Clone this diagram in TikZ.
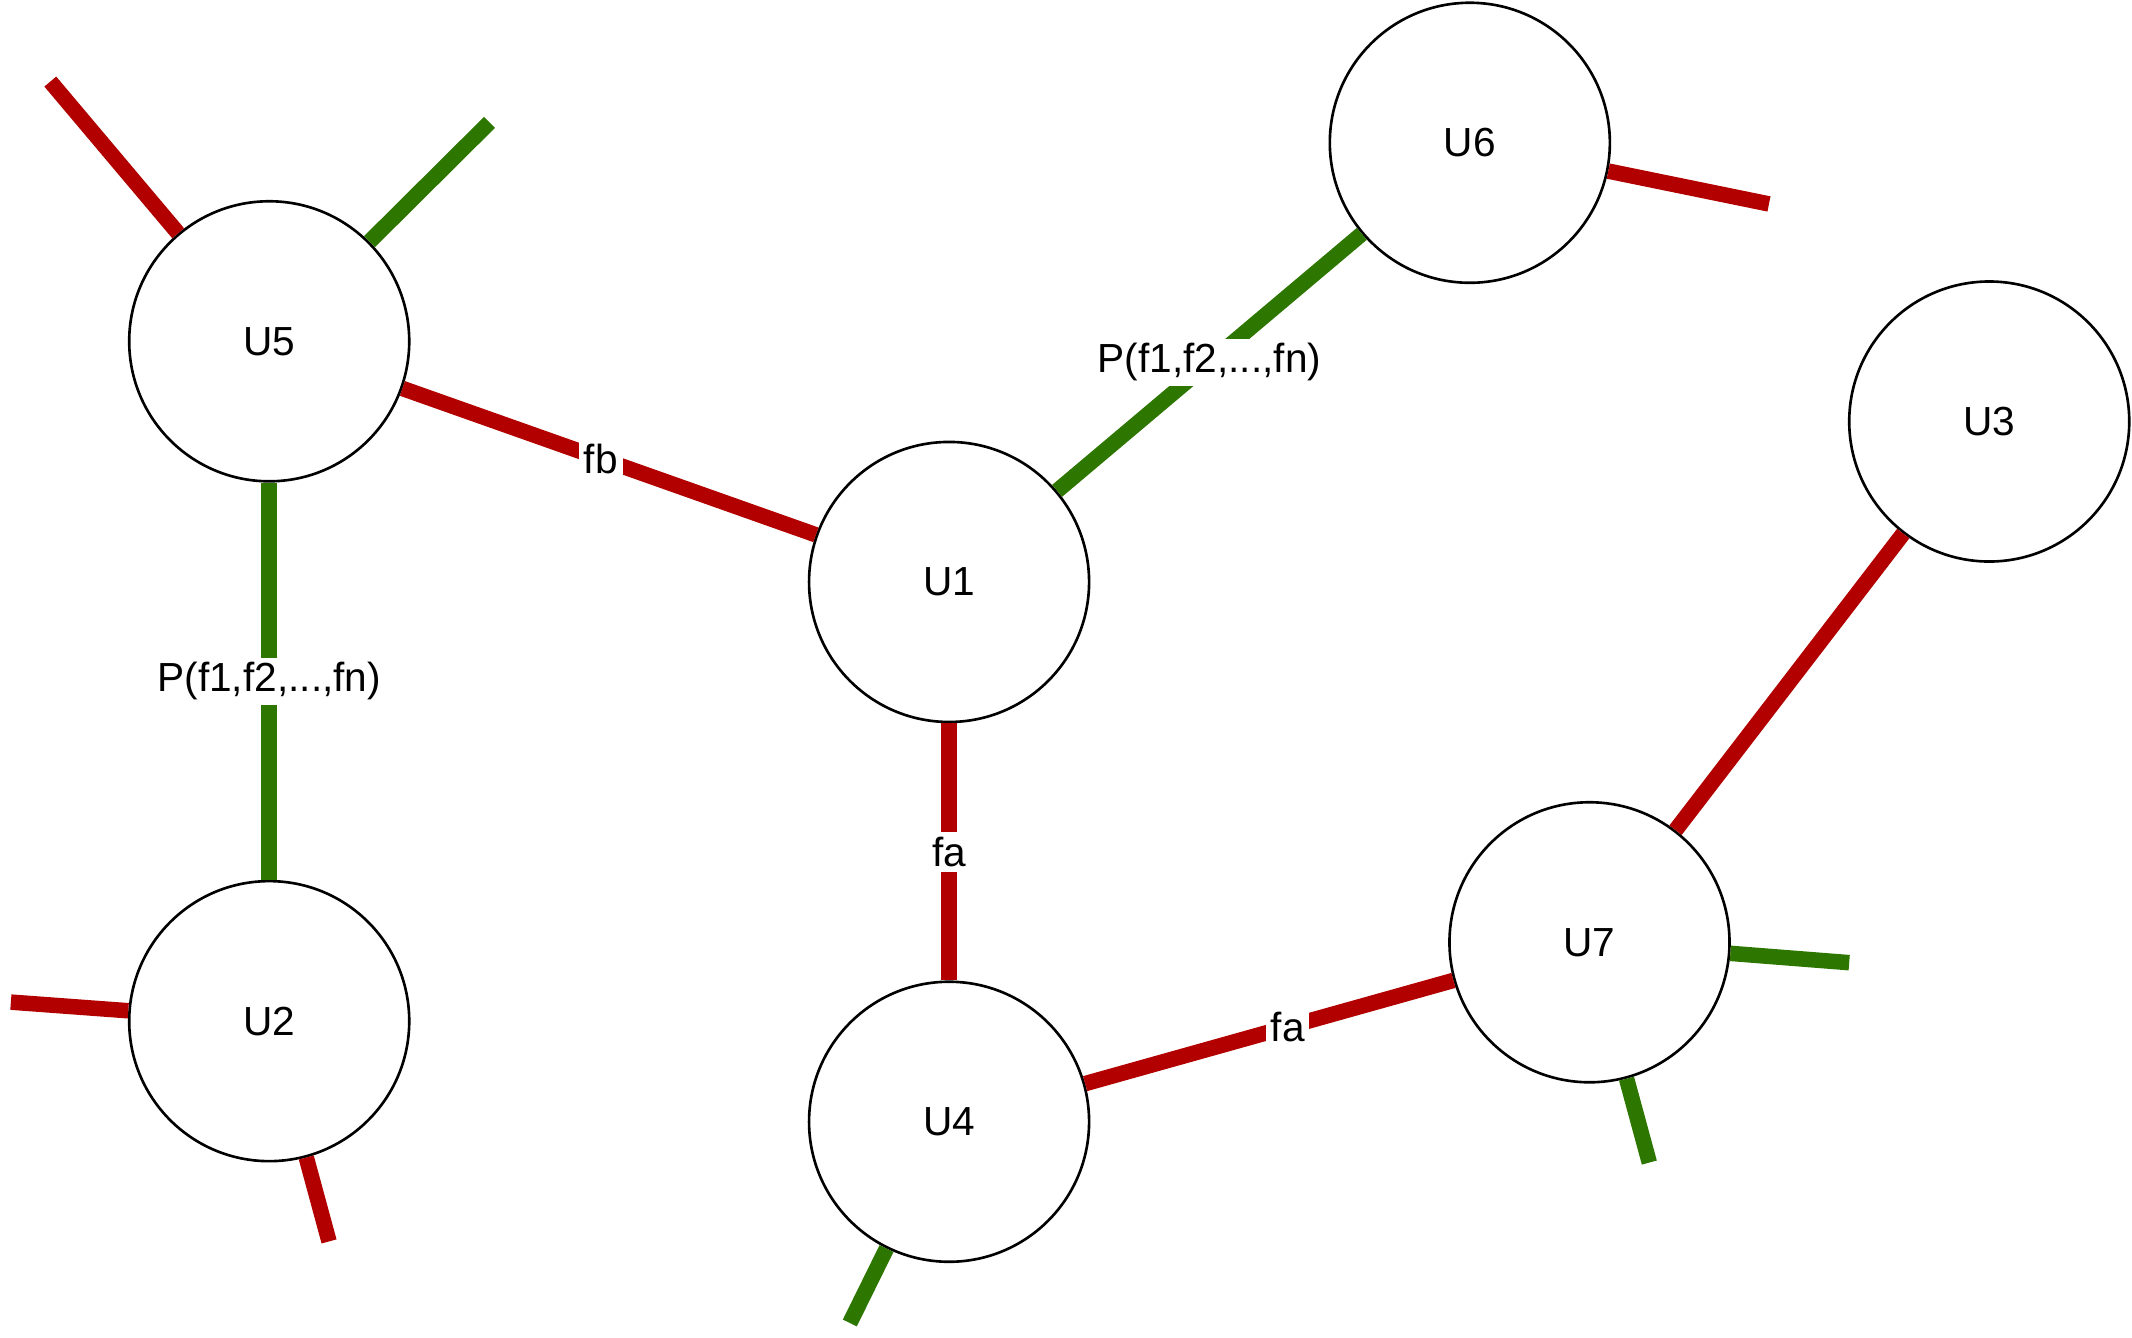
\documentclass[tikz,border=0pt]{standalone}
\usepackage{fontspec}
\setmainfont{Liberation Sans}
\begin{document}
\begin{tikzpicture}[x=0.02cm,y=-0.02cm,
  unode/.style={circle,draw=black,line width=1.1pt,minimum size=4.12cm,inner sep=0pt,font=\fontsize{17}{20}\selectfont},
  redl/.style={draw={rgb,255:red,178;green,0;blue,0},line width=6.5pt},
  greenl/.style={draw={rgb,255:red,45;green,118;blue,0},line width=6.5pt},
  lbl/.style={fill=white,inner sep=2pt,font=\fontsize{17}{20}\selectfont}]
\useasboundingbox (0,0) rectangle (1568,984);
\node[unode] (U5) at (198,251) {U5};
\node[unode] (U1) at (698,428) {U1};
\node[unode] (U6) at (1081,105) {U6};
\node[unode] (U3) at (1463,310) {U3};
\node[unode] (U7) at (1169,693) {U7};
\node[unode] (U2) at (198,751) {U2};
\node[unode] (U4) at (698,825) {U4};
\coordinate (s1) at (37,60);
\coordinate (s2) at (360,90);
\coordinate (s3) at (1301,150);
\coordinate (s4) at (1360,708);
\coordinate (s5) at (1213,855);
\coordinate (s6) at (8,737);
\coordinate (s7) at (242,913);
\coordinate (s8) at (625,973);
\draw[redl] (U5) -- (s1);
\draw[greenl] (U5) -- (s2);
\draw[redl] (U6) -- (s3);
\draw[greenl] (U7) -- (s4);
\draw[greenl] (U7) -- (s5);
\draw[redl] (U2) -- (s6);
\draw[redl] (U2) -- (s7);
\draw[greenl] (U4) -- (s8);
\draw[redl] (U5) -- (U1) node[lbl,pos=0.48] (lfb) {fb};
\draw[greenl] (U5) -- (U2) node[lbl,midway] (lp1) {P(f1,f2,...,fn)};
\draw[greenl] (U1) -- (U6) node[lbl,pos=0.5] (lp2) {P(f1,f2,...,fn)};
\draw[redl] (U1) -- (U4) node[lbl,midway] (lfa1) {fa};
\draw[redl] (U4) -- (U7) node[lbl,pos=0.55] (lfa2) {fa};
\draw[redl] (U7) -- (U3);
\end{tikzpicture}
\end{document}
